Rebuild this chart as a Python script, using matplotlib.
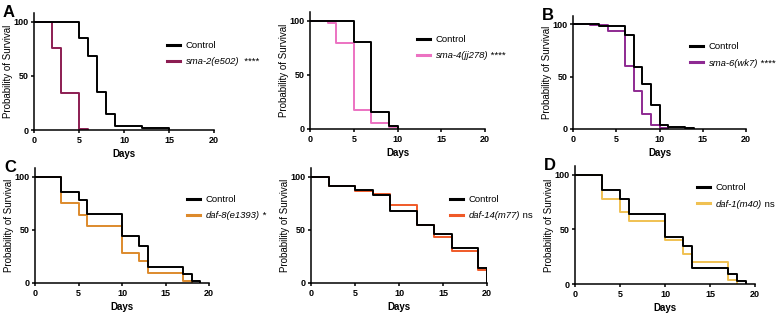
import matplotlib
matplotlib.use('Agg')
import matplotlib.pyplot as plt

plt.rcParams['font.family'] = ['Liberation Sans', 'DejaVu Sans']

# survival curves (day of drop, % surviving after drop)
a_ctrl_t = [0, 5, 6, 7, 8, 9, 12, 15]
a_ctrl_s = [100, 85, 68, 35, 14.5, 4, 2, 0]
a_mut_t = [0, 2, 3, 5, 6]
a_mut_s = [100, 76, 34.5, 1, 0]

a2_ctrl_t = [0, 5, 7, 9, 10]
a2_ctrl_s = [100, 80, 15.5, 3, 0]
a2_mut_t = [0, 2, 3, 5, 7, 9, 10]
a2_mut_s = [100, 98, 79, 18, 6, 2, 0]

b_ctrl_t = [0, 3, 6, 7, 8, 9, 10, 11, 13, 14]
b_ctrl_s = [100, 98, 90, 59, 43, 23, 3.5, 2, 1, 0]
b_mut_t = [0, 2, 4, 6, 7, 8, 9, 10, 11]
b_mut_s = [100, 99, 93.5, 60, 36, 14, 4, 1, 0]

c_ctrl_t = [0, 3, 5, 6, 10, 12, 13, 17, 18, 19]
c_ctrl_s = [100, 85.5, 77.7, 65, 44, 34.6, 14.8, 8.5, 2, 0]
c_mut_t = [0, 3, 5, 6, 10, 12, 13, 17, 18]
c_mut_s = [100, 75, 63.5, 54, 28, 21, 9, 2, 0]

c2_ctrl_t = [0, 2, 5, 7, 9, 12, 14, 16, 19, 20]
c2_ctrl_s = [100, 91, 87.4, 82.4, 67.6, 54.4, 45.6, 33, 14, 0]
c2_mut_t = [0, 2, 5, 7, 9, 12, 14, 16, 19, 20]
c2_mut_s = [100, 91, 86, 84, 73, 54.4, 43.4, 29.6, 12.6, 0]

d_ctrl_t = [0, 3, 5, 6, 10, 12, 13, 17, 18, 19]
d_ctrl_s = [100, 85.6, 77.7, 64, 43.4, 35, 14.4, 9, 3, 0]
d_mut_t = [0, 3, 5, 6, 10, 12, 13, 17, 18]
d_mut_s = [100, 78, 66, 58, 40, 27.5, 20.5, 4, 0]

mut_names = ['sma-2(e502)', 'sma-4(jj278)', 'sma-6(wk7)',
             'daf-8(e1393)', 'daf-14(m77)', 'daf-1(m40)']
mut_marks = ['  ****', ' ****', ' ****', ' *', ' ns', ' ns']
mut_colors = ['#8c1d52', '#ec72c2', '#8e2a92', '#dd8a2c', '#f05a28', '#f0c152']
panel_letters = ['A', '', 'B', 'C', '', 'D']

curves = [(a_ctrl_t, a_ctrl_s, a_mut_t, a_mut_s),
          (a2_ctrl_t, a2_ctrl_s, a2_mut_t, a2_mut_s),
          (b_ctrl_t, b_ctrl_s, b_mut_t, b_mut_s),
          (c_ctrl_t, c_ctrl_s, c_mut_t, c_mut_s),
          (c2_ctrl_t, c2_ctrl_s, c2_mut_t, c2_mut_s),
          (d_ctrl_t, d_ctrl_s, d_mut_t, d_mut_s)]

W, H = 783, 318
# axes box in pixels: x0, x1, y(top of axis), y(zero)
boxes = [(34, 214, 13, 130), (310, 485, 12, 129), (573, 746, 16, 129),
         (35, 209, 168, 283), (311, 487, 168, 283), (575, 755, 166, 284)]
# legend anchor (left x, center y) in pixels
leg_pos = [(167, 53.5), (417, 47.5), (690, 55), (187, 207.5), (450, 207.5), (697, 196)]

fig = plt.figure(figsize=(W / 100, H / 100), dpi=100)
legend_texts = []
for i, (ct, cs, mt, ms) in enumerate(curves):
    x0, x1, yt, y0 = boxes[i]
    ax = fig.add_axes([x0 / W, (H - y0) / H, (x1 - x0) / W, (y0 - yt) / H])
    ax.step(mt, ms, where='post', color=mut_colors[i], lw=1.4, label=mut_names[i])
    ax.step(ct, cs, where='post', color='black', lw=1.4, label='Control')
    ax.set_xlim(0, 20)
    ax.set_ylim(0, 108)
    ax.set_xticks([0, 5, 10, 15, 20])
    ax.set_yticks([0, 50, 100])
    for s in ['top', 'right']:
        ax.spines[s].set_visible(False)
    for s in ['left', 'bottom']:
        ax.spines[s].set_linewidth(1.1)
    ax.tick_params(width=1.1, length=2.5, pad=1.5, labelsize=6.5)
    for lab in ax.get_xticklabels() + ax.get_yticklabels():
        lab.set_fontweight('bold')
    ax.set_xlabel('Days', fontsize=7, fontweight='bold', labelpad=3)
    ax.set_ylabel('Probability of Survival', fontsize=7, labelpad=0.5)
    h, l = ax.get_legend_handles_labels()
    lx, ly = leg_pos[i]
    leg = ax.legend(h[::-1], l[::-1], loc='center left',
                    bbox_to_anchor=(lx / W, 1 - ly / H), bbox_transform=fig.transFigure,
                    frameon=False, fontsize=6.8, handlelength=1.4, handletextpad=0.6,
                    borderpad=0, borderaxespad=0, labelspacing=0.75)
    for line in leg.get_lines():
        line.set_linewidth(2.2)
    txt = leg.get_texts()[1]
    txt.set_fontstyle('italic')
    legend_texts.append(txt)
    if panel_letters[i]:
        fig.text((x0 - 31) / W, 1 - (yt - 8) / H, panel_letters[i],
                 fontsize=12, fontweight='bold', va='top', ha='left')

# significance marks after the italic strain names
fig.canvas.draw()
for txt, mark in zip(legend_texts, mut_marks):
    bb = txt.get_window_extent().transformed(fig.transFigure.inverted())
    fig.text(bb.x1, bb.y0, mark, fontsize=6.8, va='bottom', ha='left')

fig.savefig('out.png', dpi=100)
